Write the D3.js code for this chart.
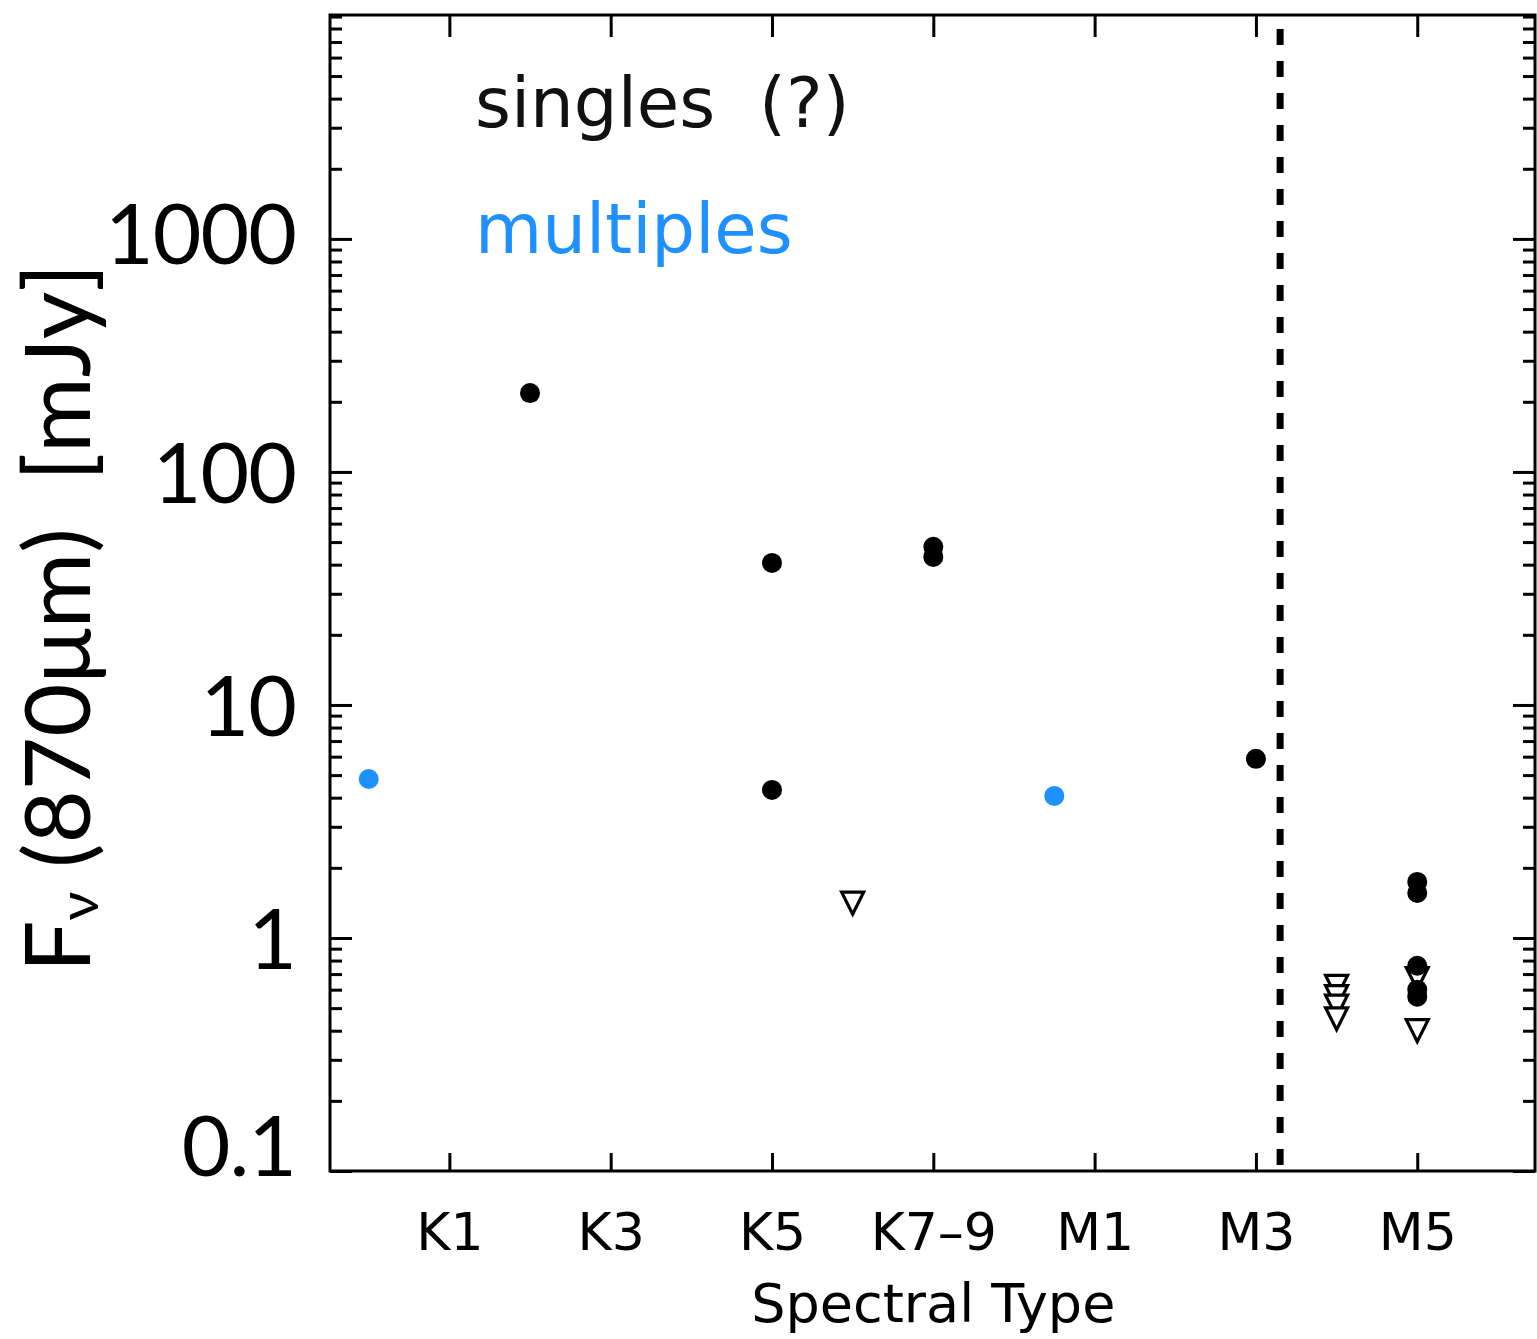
<!DOCTYPE html>
<html>
<head>
<meta charset="utf-8">
<script src="https://cdn.jsdelivr.net/npm/d3@7"></script>
<style>
  html, body { margin: 0; padding: 0; background: #fff; }
  svg { display: block; }
</style>
</head>
<body>
<svg id="chart" width="1537" height="1339"></svg>
<script>
// Spectral-type positions: K0 = 0 ... K6 = 6, K7-9 = 7, M0 = 8, M1 = 9 ... M5 = 13
const tickIndex = [1, 3, 5, 7, 9, 11, 13];
const tickLabels = ["K1", "K3", "K5", "K7–9", "M1", "M3", "M5"];

// Flux axis (mJy)
const yMajor = [0.1, 1, 10, 100, 1000];
const yMajorLabels = ["0.1", "1", "10", "100", "1000"];

// Singles: detections
const singlesType = [2, 5, 5, 7, 7, 11, 13, 13, 13, 13, 13];
const singlesFlux = [218, 40.7, 4.32, 47.7, 43.2, 5.87, 1.74, 1.56, 0.76, 0.60, 0.56];

// Singles: upper limits
const limitsType = [6, 12, 12, 12, 12, 13, 13];
const limitsFlux = [1.41, 0.62, 0.56, 0.51, 0.45, 0.67, 0.40];

// Multiple systems
const multiplesType = [0, 8.5];
const multiplesFlux = [4.81, 4.07];

// Boundary between early and late types
const dividerType = 11.3;

const BLUE = "#1e90ff";
const svg = d3.select("#chart");

const plotLeft = 330, plotRight = 1535, plotTop = 15, plotBottom = 1171;

const x = d3.scaleLinear().domain([-0.48, 14.46]).range([plotLeft, plotRight]);
const y = d3.scaleLog().domain([0.1, 9140]).range([plotBottom, plotTop]);

// minor ticks: 2..9 within each decade
const yMinor = [];
[0.1, 1, 10, 100, 1000].forEach(d => {
  for (let k = 2; k <= 9; k++) {
    const v = +(d * k).toPrecision(3);
    if (v < y.domain()[1]) yMinor.push(v);
  }
});

const axisStyle = g => {
  g.select(".domain").remove();
  g.selectAll(".tick line").attr("stroke", "#000").attr("stroke-width", 3);
};

// left axis: major ticks with labels
const gl = svg.append("g").attr("transform", `translate(${plotLeft},0)`)
  .call(d3.axisLeft(y).tickValues(yMajor).tickSize(-22).tickPadding(34)
    .tickFormat((d, i) => yMajorLabels[i]))
  .call(axisStyle);
gl.selectAll(".tick text")
  .attr("font-family", "Lato, 'Open Sans', sans-serif")
  .attr("font-size", 84)
  .attr("letter-spacing", -1)
  .attr("fill", "#000")
  .attr("dy", "0.36em")
  .attr("y", d => (y(d) > plotBottom - 20 ? -26 : (d >= 1000 ? -6 : 0)));

svg.append("g").attr("transform", `translate(${plotLeft},0)`)
  .call(d3.axisLeft(y).tickValues(yMinor).tickSize(-12).tickFormat(""))
  .call(axisStyle);

// right axis mirror
svg.append("g").attr("transform", `translate(${plotRight},0)`)
  .call(d3.axisRight(y).tickValues(yMajor).tickSize(-22).tickFormat(""))
  .call(axisStyle);
svg.append("g").attr("transform", `translate(${plotRight},0)`)
  .call(d3.axisRight(y).tickValues(yMinor).tickSize(-12).tickFormat(""))
  .call(axisStyle);

// bottom axis with spectral type labels
const gb = svg.append("g").attr("transform", `translate(0,${plotBottom})`)
  .call(d3.axisBottom(x).tickValues(tickIndex).tickSize(-18).tickPadding(42)
    .tickFormat((d, i) => tickLabels[i]))
  .call(axisStyle);
gb.selectAll(".tick text")
  .attr("font-family", "'DejaVu Sans', sans-serif")
  .attr("font-size", 52)
  .attr("fill", "#000");

// top axis mirror
svg.append("g").attr("transform", `translate(0,${plotTop})`)
  .call(d3.axisTop(x).tickValues(tickIndex).tickSize(-22).tickFormat(""))
  .call(axisStyle);

// frame
svg.append("rect")
  .attr("x", plotLeft).attr("y", plotTop)
  .attr("width", plotRight - plotLeft).attr("height", plotBottom - plotTop)
  .attr("fill", "none").attr("stroke", "#000").attr("stroke-width", 3);

// vertical dashed divider
svg.append("line")
  .attr("x1", x(dividerType)).attr("x2", x(dividerType))
  .attr("y1", plotTop).attr("y2", plotBottom)
  .attr("stroke", "#000").attr("stroke-width", 7)
  .attr("stroke-dasharray", "16,16").attr("stroke-dashoffset", -14);

// open downward triangle, centred on its bounding box
const downTriangle = {
  draw(ctx, size) {
    const h = Math.sqrt(size);
    const w = h;
    ctx.moveTo(-w / 2, -h / 2);
    ctx.lineTo(w / 2, -h / 2);
    ctx.lineTo(0, h / 2);
    ctx.closePath();
  }
};

const marks = svg.append("g");

marks.selectAll("path.limit")
  .data(limitsType.map((t, i) => ({ t, f: limitsFlux[i] })))
  .join("path")
  .attr("class", "limit")
  .attr("transform", d => `translate(${x(d.t)},${y(d.f)})`)
  .attr("d", d3.symbol().type(downTriangle).size(22 * 22))
  .attr("fill", "#fff").attr("stroke", "#000").attr("stroke-width", 3.2)
  .attr("stroke-linejoin", "miter");

marks.selectAll("circle.single")
  .data(singlesType.map((t, i) => ({ t, f: singlesFlux[i] })))
  .join("circle")
  .attr("class", "single")
  .attr("cx", d => x(d.t)).attr("cy", d => y(d.f))
  .attr("r", 10).attr("fill", "#000");

marks.selectAll("circle.multiple")
  .data(multiplesType.map((t, i) => ({ t, f: multiplesFlux[i] })))
  .join("circle")
  .attr("class", "multiple")
  .attr("cx", d => x(d.t)).attr("cy", d => y(d.f))
  .attr("r", 10).attr("fill", BLUE);

// legend
svg.append("text")
  .attr("x", 475).attr("y", 127)
  .attr("font-family", "'DejaVu Sans', sans-serif")
  .attr("font-size", 69)
  .attr("fill", "#111")
  .attr("xml:space", "preserve")
  .text("singles  (?)");
svg.append("text")
  .attr("x", 475).attr("y", 253)
  .attr("font-family", "'DejaVu Sans', sans-serif")
  .attr("font-size", 69)
  .attr("fill", BLUE)
  .text("multiples");

// axis titles
svg.append("text")
  .attr("x", x(7)).attr("y", 1322)
  .attr("text-anchor", "middle")
  .attr("font-family", "'DejaVu Sans', sans-serif")
  .attr("font-size", 54)
  .attr("fill", "#000")
  .text("Spectral Type");

const yt = svg.append("text")
  .attr("transform", "translate(90,618) rotate(-90)")
  .attr("text-anchor", "middle")
  .attr("font-family", "Lato, 'Open Sans', sans-serif")
  .attr("font-size", 92)
  .attr("fill", "#000")
  .attr("xml:space", "preserve");
yt.append("tspan").text("F");
yt.append("tspan").attr("font-size", 56).attr("dy", 8).text("ν");
yt.append("tspan").attr("dy", -8).text(" (870μm)  [mJy]");
</script>
</body>
</html>
